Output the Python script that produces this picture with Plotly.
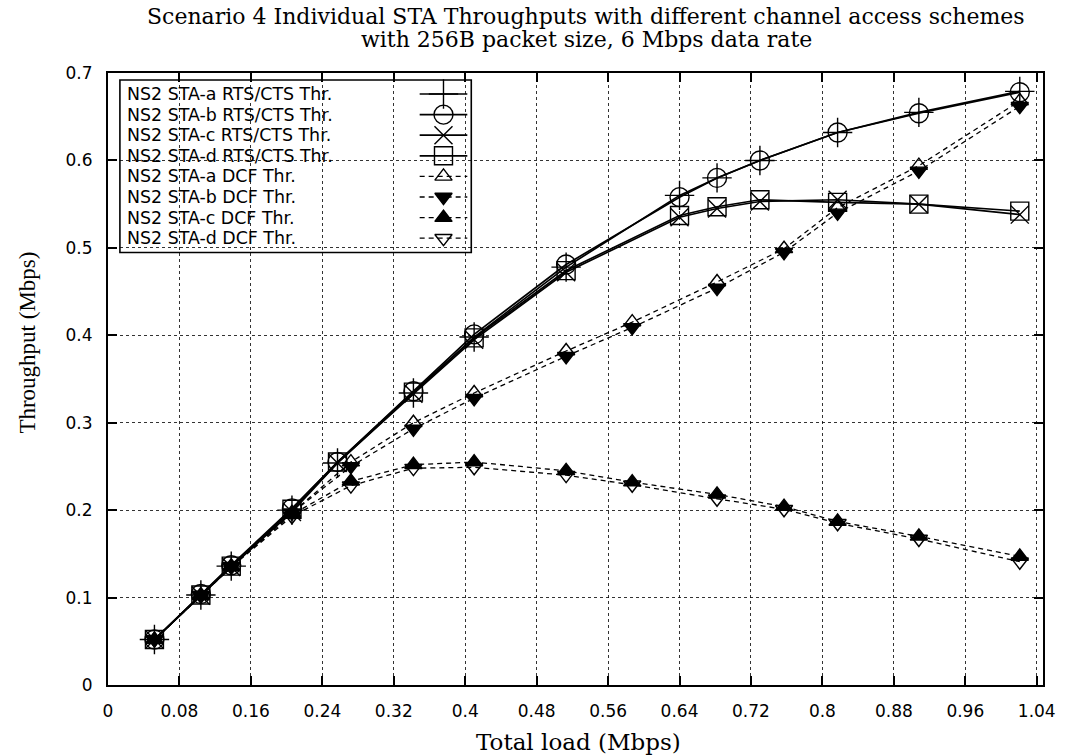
import plotly.graph_objects as go

# ---------------- data ----------------
rts_load = [0.052, 0.104, 0.138, 0.206, 0.257, 0.342, 0.41, 0.513, 0.64, 0.682, 0.73, 0.817, 0.908, 1.021]
rts_sta_a = [0.052, 0.103, 0.136, 0.200, 0.254, 0.334, 0.398, 0.478, 0.560, 0.580, 0.600, 0.632, 0.655, 0.679]
rts_sta_b = [0.052, 0.104, 0.137, 0.202, 0.255, 0.336, 0.401, 0.481, 0.558, 0.580, 0.600, 0.632, 0.654, 0.678]
rts_sta_c = [0.052, 0.102, 0.135, 0.198, 0.254, 0.333, 0.395, 0.472, 0.535, 0.545, 0.553, 0.555, 0.550, 0.538]
rts_sta_d = [0.052, 0.103, 0.136, 0.201, 0.255, 0.335, 0.397, 0.474, 0.537, 0.547, 0.555, 0.552, 0.550, 0.542]

dcf_load = [0.052, 0.104, 0.138, 0.206, 0.272, 0.342, 0.41, 0.513, 0.587, 0.682, 0.757, 0.817, 0.908, 1.021]
dcf_sta_a = [0.052, 0.103, 0.136, 0.197, 0.255, 0.300, 0.334, 0.382, 0.415, 0.461, 0.499, 0.546, 0.594, 0.668]
dcf_sta_b = [0.052, 0.103, 0.136, 0.197, 0.250, 0.293, 0.328, 0.376, 0.409, 0.454, 0.495, 0.540, 0.588, 0.662]
dcf_sta_c = [0.052, 0.102, 0.135, 0.195, 0.233, 0.252, 0.255, 0.245, 0.232, 0.218, 0.204, 0.187, 0.170, 0.147]
dcf_sta_d = [0.052, 0.102, 0.135, 0.193, 0.228, 0.248, 0.249, 0.240, 0.229, 0.213, 0.201, 0.185, 0.167, 0.141]

series_names = [
    "NS2 STA-a RTS/CTS Thr.", "NS2 STA-b RTS/CTS Thr.", "NS2 STA-c RTS/CTS Thr.", "NS2 STA-d RTS/CTS Thr.",
    "NS2 STA-a DCF Thr.", "NS2 STA-b DCF Thr.", "NS2 STA-c DCF Thr.", "NS2 STA-d DCF Thr.",
]
x_ticks = [0, 0.08, 0.16, 0.24, 0.32, 0.4, 0.48, 0.56, 0.64, 0.72, 0.8, 0.88, 0.96, 1.04]
x_tick_labels = ["0", "0.08", "0.16", "0.24", "0.32", "0.4", "0.48", "0.56", "0.64", "0.72", "0.8", "0.88", "0.96", "1.04"]
y_ticks = [0, 0.1, 0.2, 0.3, 0.4, 0.5, 0.6, 0.7]
y_tick_labels = ["0", "0.1", "0.2", "0.3", "0.4", "0.5", "0.6", "0.7"]
title_line1 = "Scenario 4 Individual STA Throughputs with different channel access schemes"
title_line2 = "with 256B packet size, 6 Mbps data rate"
x_title = "Total load (Mbps)"
y_title = "Throughput (Mbps)"

# ---------------- layout helpers ----------------
W, H = 1068, 756
ML, MR, MT, MB = 108, 18, 73, 71
PW, PH = W - ML - MR, H - MT - MB


def px_x(p):  # pixel -> paper x
    return (p - ML) / PW


def px_y(p):  # pixel -> paper y
    return (H - MB - p) / PH


SERIF = "DejaVu Serif"
SANS = "DejaVu Sans"

xs = [rts_load] * 4 + [dcf_load] * 4
ys = [rts_sta_a, rts_sta_b, rts_sta_c, rts_sta_d, dcf_sta_a, dcf_sta_b, dcf_sta_c, dcf_sta_d]
symbols = ["cross-thin-open", "circle-open", "x-thin-open", "square-open",
           "triangle-up-open", "triangle-down", "triangle-up", "triangle-down-open"]
sizes = [21, 19, 18, 18, 15, 15, 15, 15]
dashes = ["solid"] * 4 + ["5px,4px"] * 4
lwidths = [1.7] * 4 + [1.3] * 4

fig = go.Figure()
for name, x, y, sym, sz, dsh, lw in zip(series_names, xs, ys, symbols, sizes, dashes, lwidths):
    fig.add_trace(go.Scatter(
        x=x, y=y, mode="lines+markers", name=name, showlegend=False,
        line=dict(color="black", width=lw, dash=dsh),
        marker=dict(symbol=sym, size=sz, color="black",
                    line=dict(color="black", width=1.4)),
    ))

# ---------------- gnuplot-like key: text left, sample right ----------------
row_first, row_step = 94, 20.6
box_x0, box_x1 = px_x(120), px_x(474)
box_y0, box_y1 = px_y(row_first + row_step * 7.5 + 4), px_y(80)
text_x = px_x(126)
samp_x0, samp_x1 = px_x(422), px_x(470)
fig.add_shape(type="rect", xref="paper", yref="paper", x0=box_x0, x1=box_x1, y0=box_y0, y1=box_y1,
              line=dict(color="black", width=1.6), fillcolor="white", layer="below")
for i, (name, sym, sz, dsh, lw) in enumerate(zip(series_names, symbols, sizes, dashes, lwidths)):
    yc = px_y(row_first + row_step * i)
    fig.add_annotation(x=text_x, y=yc, xref="paper", yref="paper", text=name,
                       showarrow=False, xanchor="left", yanchor="middle", borderpad=0,
                       font=dict(family=SANS, size=17.4, color="black"))
    fig.add_trace(go.Scatter(
        x=[samp_x0, samp_x1], y=[yc, yc],
        xaxis="x2", yaxis="y2", mode="lines", showlegend=False, hoverinfo="skip",
        line=dict(color="black", width=lw, dash=dsh),
    ))
    fig.add_trace(go.Scatter(
        x=[(samp_x0 + samp_x1) / 2], y=[yc],
        xaxis="x2", yaxis="y2", mode="markers", showlegend=False, hoverinfo="skip",
        marker=dict(symbol=sym, size=sz, color="black", line=dict(color="black", width=1.4)),
    ))

# ---------------- titles ----------------
fig.add_annotation(x=px_x(590), y=px_y(16), xref="paper", yref="paper", text=title_line1,
                   showarrow=False, xanchor="center", yanchor="middle",
                   font=dict(family=SERIF, size=22, color="black"))
fig.add_annotation(x=px_x(590), y=px_y(40), xref="paper", yref="paper", text=title_line2,
                   showarrow=False, xanchor="center", yanchor="middle",
                   font=dict(family=SERIF, size=22, color="black"))
fig.add_annotation(x=px_x(582), y=px_y(742), xref="paper", yref="paper", text=x_title,
                   showarrow=False, xanchor="center", yanchor="middle",
                   font=dict(family=SERIF, size=23, color="black"))
fig.add_annotation(x=px_x(26), y=px_y(343), xref="paper", yref="paper", text=y_title,
                   showarrow=False, xanchor="center", yanchor="middle", textangle=-90,
                   font=dict(family="Liberation Serif", size=23, color="black"))

axis_common = dict(
    showline=True, linecolor="black", linewidth=2, mirror="ticks",
    ticks="inside", ticklen=9, tickwidth=1.5, tickcolor="black",
    showgrid=True, gridcolor="rgba(0,0,0,0.8)", griddash="dot", gridwidth=1,
    zeroline=False,
    tickfont=dict(family=SANS, size=17, color="black"),
)

fig.update_layout(
    width=W, height=H,
    paper_bgcolor="white", plot_bgcolor="white",
    margin=dict(l=ML, r=MR, t=MT, b=MB),
    xaxis=dict(range=[0, 1.047], tickvals=x_ticks, ticktext=x_tick_labels,
               ticklabelstandoff=10, **axis_common),
    yaxis=dict(range=[0, 0.7], tickvals=y_ticks, ticktext=y_tick_labels,
               ticklabelstandoff=10, **axis_common),
    xaxis2=dict(range=[0, 1], overlaying="x", visible=False, fixedrange=True),
    yaxis2=dict(range=[0, 1], overlaying="y", visible=False, fixedrange=True),
    showlegend=False,
)

fig.write_html("out.html")
